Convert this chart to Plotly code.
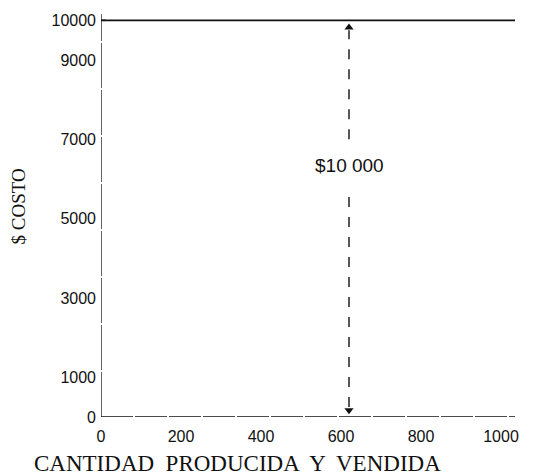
import plotly.graph_objects as go

# Fixed cost chart: cost stays at $10 000 whatever the quantity
fixed_cost = 10000
quantity = [0, 1035]
cost_line = [fixed_cost, fixed_cost]

x_ticks = [0, 200, 400, 600, 800, 1000]
y_ticks = [0, 1000, 3000, 5000, 7000, 9000, 10000]
y_tick_text = ["0", "1000", "3000", "5000", "7000", "9000", "10000"]

arrow_x = 620
label_text = "$10 000"
label_y = 6350

x_title = "CANTIDAD  PRODUCIDA  Y  VENDIDA"
y_title = "$ COSTO"

x_range = [0, 1035]
y_range = [0, 10160]

ink = "#111111"
tick_font = dict(family="Liberation Sans, Arial, sans-serif", size=16, color=ink)
serif = "Liberation Serif, Times New Roman, serif"

fig = go.Figure()

# dashed axes
fig.add_trace(go.Scatter(x=[0, 0], y=[0, y_range[1]], mode="lines",
                         line=dict(color=ink, width=1.3, dash="45px,2px"),
                         hoverinfo="skip", showlegend=False))
fig.add_trace(go.Scatter(x=[0, x_range[1]], y=[0, 0], mode="lines",
                         line=dict(color=ink, width=1.3, dash="32px,2px"),
                         hoverinfo="skip", showlegend=False))

# fixed cost line
fig.add_trace(go.Scatter(x=quantity, y=cost_line, mode="lines",
                         line=dict(color=ink, width=1.8),
                         hoverinfo="skip", showlegend=False))

# dimension arrow from 0 to the fixed cost, broken by its label
fig.add_trace(go.Scatter(x=[arrow_x, arrow_x], y=[250, label_y - 800], mode="lines",
                         line=dict(color=ink, width=1.4, dash="10px,10px"),
                         hoverinfo="skip", showlegend=False))
fig.add_trace(go.Scatter(x=[arrow_x, arrow_x], y=[label_y + 650, fixed_cost - 250], mode="lines",
                         line=dict(color=ink, width=1.4, dash="10px,10px"),
                         hoverinfo="skip", showlegend=False))
fig.add_trace(go.Scatter(x=[arrow_x], y=[fixed_cost - 180], mode="markers",
                         marker=dict(symbol="triangle-up", size=8, color=ink),
                         hoverinfo="skip", showlegend=False))
fig.add_trace(go.Scatter(x=[arrow_x], y=[170], mode="markers",
                         marker=dict(symbol="triangle-down", size=8, color=ink),
                         hoverinfo="skip", showlegend=False))

fig.add_annotation(x=arrow_x, y=label_y, text=label_text, showarrow=False,
                   font=dict(family="Liberation Sans, Arial, sans-serif", size=19, color=ink),
                   xanchor="center", yanchor="middle")

# small tick where the cost line meets the vertical axis
fig.add_shape(type="line", x0=0, x1=12, y0=fixed_cost, y1=fixed_cost,
              line=dict(color=ink, width=1.4))

# axis titles
fig.add_annotation(xref="paper", yref="paper", x=-0.167, y=-0.115,
                   text=x_title, showarrow=False, xanchor="left", yanchor="middle",
                   font=dict(family=serif, size=23, color=ink))
fig.add_annotation(xref="paper", yref="paper", x=-0.2, y=0.523,
                   text=y_title, showarrow=False, textangle=-90,
                   xanchor="center", yanchor="middle",
                   font=dict(family=serif, size=19, color=ink))

fig.update_xaxes(range=x_range, tickvals=x_ticks, ticks="", showgrid=False,
                 zeroline=False, showline=False, tickfont=tick_font,
                 ticklabelstandoff=8)
fig.update_yaxes(range=y_range, tickvals=y_ticks, ticktext=y_tick_text, ticks="",
                 showgrid=False, zeroline=False, showline=False, tickfont=tick_font,
                 ticklabelstandoff=4)

fig.update_layout(width=534, height=476,
                  margin=dict(l=101, r=19, t=12, b=59),
                  paper_bgcolor="white", plot_bgcolor="white")

fig.write_html("out.html")
